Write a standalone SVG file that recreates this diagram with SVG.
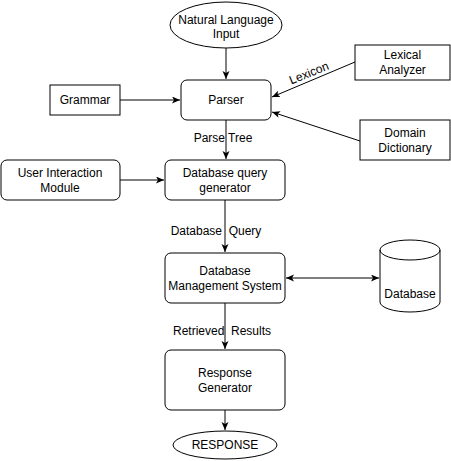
<svg xmlns="http://www.w3.org/2000/svg" width="451" height="461" viewBox="0 0 451 461">
<style>
text{font-family:"Liberation Sans",Arial,sans-serif;font-size:12px;fill:#000;text-anchor:middle}
.n{fill:#fff;stroke:#000;stroke-width:1}
.c{fill:none;stroke:#000;stroke-width:1}
.lbl{white-space:pre}
</style>
<defs>
<marker id="ah" markerWidth="9" markerHeight="8" refX="8" refY="3.5" orient="auto-start-reverse" markerUnits="userSpaceOnUse">
<path d="M0,0 L8,3.5 L0,7 L2,3.5 z" fill="#000"/>
</marker>
</defs>
<rect width="451" height="461" fill="#fff"/>
<g id="connectors">
<line class="c" x1="226" y1="48" x2="226" y2="79" marker-end="url(#ah)"/>
<line class="c" x1="120" y1="100" x2="180" y2="100" marker-end="url(#ah)"/>
<line class="c" x1="355" y1="62" x2="272" y2="97" marker-end="url(#ah)"/>
<line class="c" x1="360" y1="141" x2="272" y2="112" marker-end="url(#ah)"/>
<line class="c" x1="226" y1="120" x2="226" y2="159" marker-end="url(#ah)"/>
<line class="c" x1="120" y1="180" x2="164" y2="180" marker-end="url(#ah)"/>
<line class="c" x1="225" y1="200" x2="225" y2="252" marker-end="url(#ah)"/>
<line class="c" x1="286" y1="278" x2="379" y2="278" marker-start="url(#ah)" marker-end="url(#ah)"/>
<line class="c" x1="225" y1="303" x2="225" y2="349" marker-end="url(#ah)"/>
<line class="c" x1="225" y1="410" x2="225" y2="430" marker-end="url(#ah)"/>
<text x="309" y="77" transform="rotate(-22 309 73)">Lexicon</text>
<text class="lbl" x="223" y="142">Parse Tree</text>
<text class="lbl" x="216" y="235">Database  Query</text>
<text class="lbl" x="222" y="335">Retrieved  Results</text>
</g>
<g id="nli">
<ellipse class="n" cx="226" cy="25" rx="56" ry="23"/>
<text x="226" y="24">Natural Language</text>
<text x="226" y="38">Input</text>
</g>
<g id="parser">
<rect class="n" x="181" y="80" width="90" height="40" rx="6"/>
<text x="226" y="104">Parser</text>
</g>
<g id="grammar">
<rect class="n" x="50" y="85" width="70" height="30"/>
<text x="85" y="104">Grammar</text>
</g>
<g id="lexical">
<rect class="n" x="355" y="45" width="95" height="35"/>
<text x="402.5" y="59">Lexical</text>
<text x="402.5" y="74">Analyzer</text>
</g>
<g id="domain">
<rect class="n" x="360" y="120" width="90" height="40"/>
<text x="405" y="137">Domain</text>
<text x="405" y="152">Dictionary</text>
</g>
<g id="uim">
<rect class="n" x="1" y="160" width="119" height="40" rx="6"/>
<text x="60" y="177">User Interaction</text>
<text x="60" y="192">Module</text>
</g>
<g id="dbqg">
<rect class="n" x="165" y="160" width="120" height="40" rx="6"/>
<text x="225" y="177">Database query</text>
<text x="225" y="192">generator</text>
</g>
<g id="dbms">
<rect class="n" x="165" y="253" width="120" height="50" rx="6"/>
<text x="225" y="275">Database</text>
<text x="225" y="290">Management System</text>
</g>
<g id="database">
<path class="n" d="M380,250 a30,10 0 0,1 60,0 v52 a30,10 0 0,1 -60,0 z"/>
<path class="c" d="M380,250 a30,10 0 0,0 60,0"/>
<text x="410" y="298">Database</text>
</g>
<g id="respgen">
<rect class="n" x="165" y="350" width="120" height="60" rx="6"/>
<text x="225" y="377">Response</text>
<text x="225" y="392">Generator</text>
</g>
<g id="response">
<ellipse class="n" cx="225" cy="445" rx="52" ry="14"/>
<text x="225" y="449">RESPONSE</text>
</g>
</svg>
